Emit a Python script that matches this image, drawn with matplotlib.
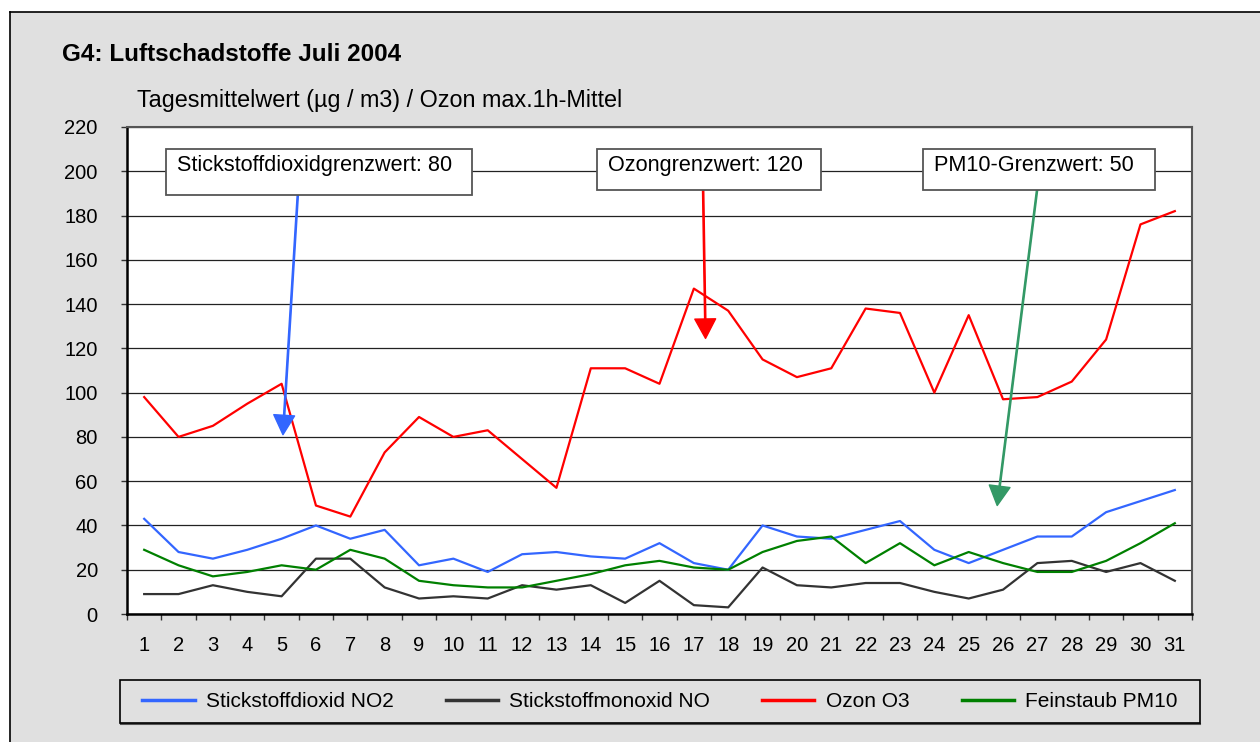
import matplotlib
matplotlib.use("Agg")
import matplotlib.pyplot as plt
from matplotlib.patches import Rectangle
from matplotlib.lines import Line2D

plt.rcParams['font.family'] = ['Liberation Sans', 'DejaVu Sans']

# daily values, July 2004
days = list(range(1, 32))
no2 = [43, 28, 25, 29, 34, 40, 34, 38, 22, 25, 19, 27, 28, 26, 25, 32,
       23, 20, 40, 35, 34, 38, 42, 29, 23, 29, 35, 35, 46, 51, 56]
no = [9, 9, 13, 10, 8, 25, 25, 12, 7, 8, 7, 13, 11, 13, 5, 15,
      4, 3, 21, 13, 12, 14, 14, 10, 7, 11, 23, 24, 19, 23, 15]
o3 = [98, 80, 85, 95, 104, 49, 44, 73, 89, 80, 83, 70, 57, 111, 111, 104,
      147, 137, 115, 107, 111, 138, 136, 100, 135, 97, 98, 105, 124, 176, 182]
pm10 = [29, 22, 17, 19, 22, 20, 29, 25, 15, 13, 12, 12, 15, 18, 22, 24,
        21, 20, 28, 33, 35, 23, 32, 22, 28, 23, 19, 19, 24, 32, 41]

series_names = ["Stickstoffdioxid NO2", "Stickstoffmonoxid NO", "Ozon O3", "Feinstaub PM10"]
series_colors = ["#3366FF", "#333333", "#FF0000", "#008000"]

limit_labels = ["Stickstoffdioxidgrenzwert: 80", "Ozongrenzwert: 120", "PM10-Grenzwert: 50"]
# where the hand-drawn arrows end (close to, not exactly at, the limits)
arrow_tips = [(5.04, 81), (17.34, 124.5), (25.83, 49)]

W, H = 1260, 742
fig = plt.figure(figsize=(12.6, 7.42), dpi=100)
fig.patch.set_facecolor("white")

# grey panel with black border on left/top
fig.patches.append(Rectangle((10 / W, 0), 1.0, 1 - 12 / H, transform=fig.transFigure,
                             facecolor="#E0E0E0", edgecolor="none", zorder=-5))
fig.lines.append(Line2D([10 / W, 10 / W], [0, 1 - 12 / H], transform=fig.transFigure,
                        color="black", lw=1.2, zorder=-4))
fig.lines.append(Line2D([10 / W, 1], [1 - 12 / H, 1 - 12 / H], transform=fig.transFigure,
                        color="black", lw=1.2, zorder=-4))

ax = fig.add_axes([127 / W, 1 - 614 / H, (1192 - 127) / W, (614 - 127) / H])
ax.set_facecolor("white")

for vals, name, col in zip([no2, no, o3, pm10], series_names, series_colors):
    ax.plot(days, vals, color=col, lw=1.6, label=name, zorder=3)

ax.set_xlim(0.5, 31.5)
ax.set_ylim(0, 220)
ax.set_yticks(range(0, 221, 20))
ax.set_xticks(days)
ax.set_xticklabels([str(d) for d in days])
ax.set_xticks([d + 0.5 for d in range(0, 32)], minor=True)
ax.tick_params(axis='x', which='major', length=0, pad=16, labelsize=14.5)
ax.tick_params(axis='x', which='minor', length=4.5, width=1, direction='out', color="#333333")
ax.tick_params(axis='y', length=4.5, width=1, direction='out', pad=16.5, labelsize=14.5, color="#333333")
ax.grid(axis='y', color="#222222", lw=0.9, zorder=1)
ax.set_axisbelow(True)
for side in ["left", "bottom"]:
    ax.spines[side].set_color("black")
    ax.spines[side].set_linewidth(1.8)
for side in ["top", "right"]:
    ax.spines[side].set_color("#555555")
    ax.spines[side].set_linewidth(1.5)

# limit annotation boxes (pixel positions converted to axes fraction)
def ax_frac(px, py):
    return (px - 127) / (1192 - 127), (614 - py) / (614 - 127)

boxes = [(166, 472, 149, 195), (597, 821, 149, 190), (923, 1155, 149, 190)]
for (x0, x1, y0, y1), lab in zip(boxes, limit_labels):
    fx0, fy1 = ax_frac(x0, y1)
    fx1, fy0 = ax_frac(x1, y0)
    ax.add_patch(Rectangle((fx0, fy1), fx1 - fx0, fy0 - fy1, transform=ax.transAxes,
                           facecolor="white", edgecolor="#555555", lw=1.3, zorder=5))
    tx, ty = ax_frac(x0 + 11, 171)
    ax.text(tx, ty, lab, transform=ax.transAxes, fontsize=15.6, va='baseline', ha='left', zorder=6)

# arrows from boxes down to the limit value
arrow_cols = ["#3366FF", "#FF0000", "#339966"]
arrow_from = [(5.47, 189), (17.27, 191.5), (26.99, 191.5)]
for (sx, sy), tip, col in zip(arrow_from, arrow_tips, arrow_cols):
    ax.annotate("", xy=tip, xytext=(sx, sy),
                arrowprops=dict(color=col, width=0.9, headwidth=15, headlength=14, shrink=0),
                zorder=4)

# titles
fig.text(62 / W, 1 - 61 / H, "G4: Luftschadstoffe Juli 2004", fontsize=17.5, fontweight='bold',
         va='baseline', ha='left')
fig.text(137 / W, 1 - 107 / H, "Tagesmittelwert (µg / m3) / Ozon max.1h-Mittel", fontsize=16.8,
         va='baseline', ha='left')

# legend with separate frame
fig.patches.append(Rectangle((120 / W, 1 - 723 / H), 1080 / W, 43 / H, transform=fig.transFigure,
                             facecolor="#E0E0E0", edgecolor="black", lw=1.2, zorder=2))
fig.lines.append(Line2D([121 / W, 1200 / W], [1 - 723.5 / H, 1 - 723.5 / H], transform=fig.transFigure,
                        color="#555555", lw=1.5))
leg = fig.legend(loc='center', bbox_to_anchor=(660 / W, 1 - 701.5 / H), ncol=4, frameon=False,
                 fontsize=15, handlelength=2.5, handletextpad=0.55, columnspacing=2.5)
for h in leg.get_lines():
    h.set_linewidth(2.5)

fig.savefig("out.png", dpi=100)
